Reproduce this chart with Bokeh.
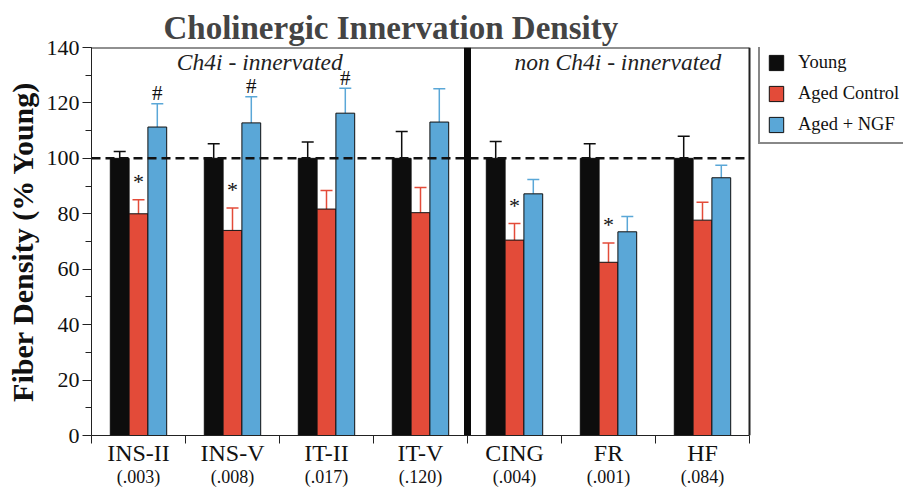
from bokeh.plotting import figure
from bokeh.models import (ColumnDataSource, Range1d, FixedTicker, SingleIntervalTicker, LinearAxis,
                          Whisker, TeeHead, Label, Legend, LegendItem)
from bokeh.embed import file_html
from bokeh.resources import INLINE
from bokeh.core.properties import value

# ---------------- data ----------------
regions = ["INS-II", "INS-V", "IT-II", "IT-V", "CING", "FR", "HF"]
pvals = ["(.003)", "(.008)", "(.017)", "(.120)", "(.004)", "(.001)", "(.084)"]
young = [100, 100, 100, 100, 100, 100, 100]
young_err = [102.5, 105.3, 105.9, 109.7, 106.1, 105.3, 108.0]
aged = [80.0, 74.0, 81.7, 80.4, 70.5, 62.5, 77.7]
aged_err = [85.1, 82.1, 88.4, 89.5, 76.5, 69.5, 84.2]
ngf = [111.3, 112.8, 116.3, 113.1, 87.2, 73.5, 93.0]
ngf_err = [119.7, 122.2, 125.3, 125.1, 92.4, 79.0, 97.5]
star_idx = [0, 1, 4, 5]   # * above Aged Control
hash_idx = [0, 1, 2]      # # above Aged + NGF

SERIF = "Liberation Serif"
C_YOUNG = "#0d0d0d"
C_AGED = "#e34b39"
C_NGF = "#5aa7d7"
AX = "#222222"

n = len(regions)
centers = [i + 0.5 for i in range(n)]
off = 0.2
bw = 0.2

# the frame also hosts the legend to the right of the data area
LEFT, DATA_RIGHT, W, H = 91, 749, 903, 489
x_end = n * (W - LEFT) / (DATA_RIGHT - LEFT)

p = figure(width=W, height=H, x_range=Range1d(0, x_end), y_range=Range1d(0, 140),
           output_backend="svg", toolbar_location=None, x_axis_type=None, y_axis_type=None,
           min_border_left=LEFT, min_border_right=0, min_border_top=47, min_border_bottom=10)
p.xgrid.visible = False
p.ygrid.visible = False
p.outline_line_color = None
p.background_fill_color = "white"
p.border_fill_color = "white"

p.title.text = "Cholinergic Innervation Density"
p.title.text_font = SERIF
p.title.text_font_style = "bold"
p.title.text_font_size = "33px"
p.title.align = "left"
p.title.offset = 72
p.title.standoff = 4

# y axis
yax = LinearAxis(ticker=SingleIntervalTicker(interval=20, num_minor_ticks=2))
yax.axis_label = "Fiber Density (% Young)"
yax.axis_label_text_font = SERIF
yax.axis_label_text_font_style = "bold"
yax.axis_label_text_font_size = "30px"
yax.axis_label_text_color = "#111111"
yax.axis_label_standoff = 5
yax.major_label_text_font = SERIF
yax.major_label_text_font_size = "22px"
yax.major_label_text_color = "#111111"
yax.major_tick_out = 9
yax.major_tick_in = 0
yax.minor_tick_out = 6
yax.minor_tick_in = 0
yax.axis_line_color = AX
yax.major_tick_line_color = AX
yax.minor_tick_line_color = AX
yax.major_label_standoff = 3
p.add_layout(yax, "left")

# x axis (names) with ticks at group boundaries
xax = LinearAxis(ticker=FixedTicker(ticks=centers, minor_ticks=list(range(n + 1))), bounds=(0, n))
xax.major_label_overrides = {c: r for c, r in zip(centers, regions)}
xax.major_label_text_font = SERIF
xax.major_label_text_font_size = "24px"
xax.major_label_text_color = "#111111"
xax.major_tick_out = 0
xax.major_tick_in = 0
xax.minor_tick_out = 8
xax.minor_tick_in = 0
xax.axis_line_color = AX
xax.minor_tick_line_color = AX
xax.major_label_standoff = -4
p.add_layout(xax, "below")

xax2 = LinearAxis(ticker=FixedTicker(ticks=centers), bounds=(0, n))
xax2.major_label_overrides = {c: v for c, v in zip(centers, pvals)}
xax2.major_label_text_font = SERIF
xax2.major_label_text_font_size = "18px"
xax2.major_label_text_color = "#111111"
xax2.axis_line_color = None
xax2.major_tick_line_color = None
xax2.minor_tick_line_color = None
xax2.major_tick_out = 0
xax2.major_tick_in = 0
xax2.major_label_standoff = -2
p.add_layout(xax2, "below")

# frame border (top + right) around the data area only
p.segment(x0=[0, n], y0=[140, 0], x1=[n, n], y1=[140, 140], line_color=AX, line_width=2)

# bars
series = [(young, young_err, C_YOUNG, -off, "Young"),
          (aged, aged_err, C_AGED, 0.0, "Aged Control"),
          (ngf, ngf_err, C_NGF, off, "Aged + NGF")]
items = []
for vals, errs, col, dx, name in series:
    src = ColumnDataSource(dict(x=[c + dx for c in centers], top=vals, err=errs))
    r = p.vbar(x="x", top="top", bottom=0, width=bw, source=src,
               fill_color=col, line_color="#111111", line_width=1)
    w = Whisker(source=src, base="x", lower="top", upper="err", dimension="height",
                line_color=col, line_width=1.5,
                upper_head=TeeHead(size=12, line_color=col, line_width=1.5), lower_head=None)
    p.add_layout(w)
    items.append(LegendItem(label=name, renderers=[r]))

# significance markers
p.text(x=[centers[i] for i in star_idx], y=[aged_err[i] + 6.5 for i in star_idx],
       text=["*"] * len(star_idx), text_font=value(SERIF), text_font_size="22px",
       text_align="center", text_baseline="middle", text_color="#111111")
p.text(x=[centers[i] + off for i in hash_idx], y=[ngf_err[i] + 3.8 for i in hash_idx],
       text=["#"] * len(hash_idx), text_font=value(SERIF), text_font_size="21px",
       text_align="center", text_baseline="middle", text_color="#111111")

# reference line at 100 %
p.segment(x0=[0], y0=[100], x1=[n], y1=[100], line_color="#111111",
          line_width=2.5, line_dash="9 5")

# separator between the two groups of regions
p.segment(x0=[4], y0=[0], x1=[4], y1=[140], line_color="#0a0a0a", line_width=7)

# group captions
p.add_layout(Label(x=1.79, y=134.6, text="Ch4i - innervated", text_font=SERIF,
                   text_font_style="italic", text_font_size="23.5px",
                   text_align="center", text_baseline="middle", text_color="#222222"))
p.add_layout(Label(x=5.6, y=134.6, text="non Ch4i - innervated", text_font=SERIF,
                   text_font_style="italic", text_font_size="23.5px",
                   text_align="center", text_baseline="middle", text_color="#222222"))

legend = Legend(items=items, location=(667, 291))
legend.label_text_font = SERIF
legend.label_text_font_size = "18.5px"
legend.label_text_color = "#111111"
legend.glyph_width = 18
legend.glyph_height = 19
legend.label_height = 19
legend.spacing = 10
legend.padding = 7
legend.margin = 0
legend.label_standoff = 13
legend.border_line_color = "#111111"
legend.border_line_width = 2
legend.background_fill_alpha = 1
p.add_layout(legend)

open("out.html", "w").write(file_html(p, INLINE))
